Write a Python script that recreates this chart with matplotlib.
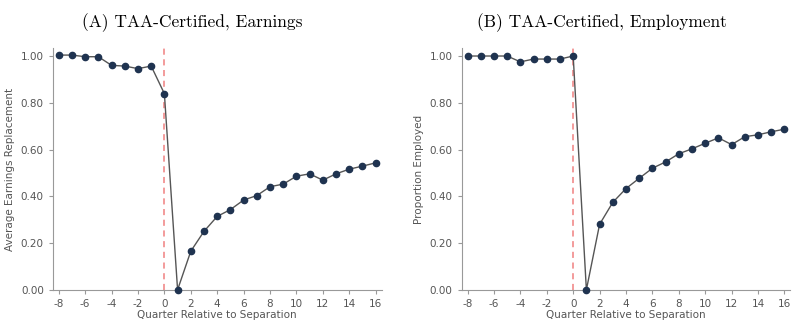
import matplotlib
matplotlib.use('Agg')
import matplotlib.pyplot as plt

plt.rcParams['axes.unicode_minus'] = False

quarters = list(range(-8, 17))
earnings = [1.004, 1.004, 0.997, 0.997, 0.960, 0.957, 0.946, 0.957, 0.839,
            0.0, 0.165, 0.250, 0.314, 0.343, 0.384, 0.403, 0.441, 0.452,
            0.486, 0.496, 0.469, 0.496, 0.516, 0.529, 0.543]
employed = [1.0, 1.0, 1.0, 1.0, 0.975, 0.987, 0.987, 0.987, 1.0,
            0.0, 0.280, 0.374, 0.433, 0.477, 0.520, 0.547, 0.582, 0.603,
            0.627, 0.650, 0.621, 0.655, 0.663, 0.676, 0.687]
xticks = list(range(-8, 17, 2))
yticks = [0, 0.2, 0.4, 0.6, 0.8, 1.0]

titles = ['(A) TAA-Certified, Earnings', '(B) TAA-Certified, Employment']
ylabels = ['Average Earnings Replacement', 'Proportion Employed']
series = [earnings, employed]

fig = plt.figure(figsize=(8, 3.22), dpi=100)
boxes = [[0.066, 0.10, 0.411, 0.75], [0.577, 0.10, 0.411, 0.75]]
title_x = [0.2405, 0.7525]
grey = '#555555'

for i in range(2):
    ax = fig.add_axes(boxes[i])
    ax.axvline(0, color='#f08080', ls='--', lw=1.1, dashes=(4, 3), zorder=1)
    ax.plot(quarters, series[i], color='#555555', lw=1.0, marker='o',
            ms=4.5, mfc='#1f3350', mec='#1f3350', zorder=3, clip_on=False)
    ax.set_xlim(-8.45, 16.45)
    ax.set_ylim(0, 1.033)
    ax.set_xticks(xticks)
    ax.set_yticks(yticks)
    ax.set_yticklabels(['%.2f' % v for v in yticks])
    for s in ['top', 'right']:
        ax.spines[s].set_visible(False)
    for s in ['left', 'bottom']:
        ax.spines[s].set_color('#999999')
        ax.spines[s].set_linewidth(0.8)
    ax.tick_params(colors='#999999', labelcolor=grey, labelsize=7.5, length=3, width=0.8)
    ax.set_xlabel('Quarter Relative to Separation', fontsize=7.5, color=grey, labelpad=1)
    ax.set_ylabel(ylabels[i], fontsize=7.5, color=grey, labelpad=4)
    fig.text(title_x[i], 1 - 27 / 322, titles[i], fontname='cmr10', fontsize=12.5,
             ha='center', va='baseline')

fig.savefig('out.png', dpi=100)
